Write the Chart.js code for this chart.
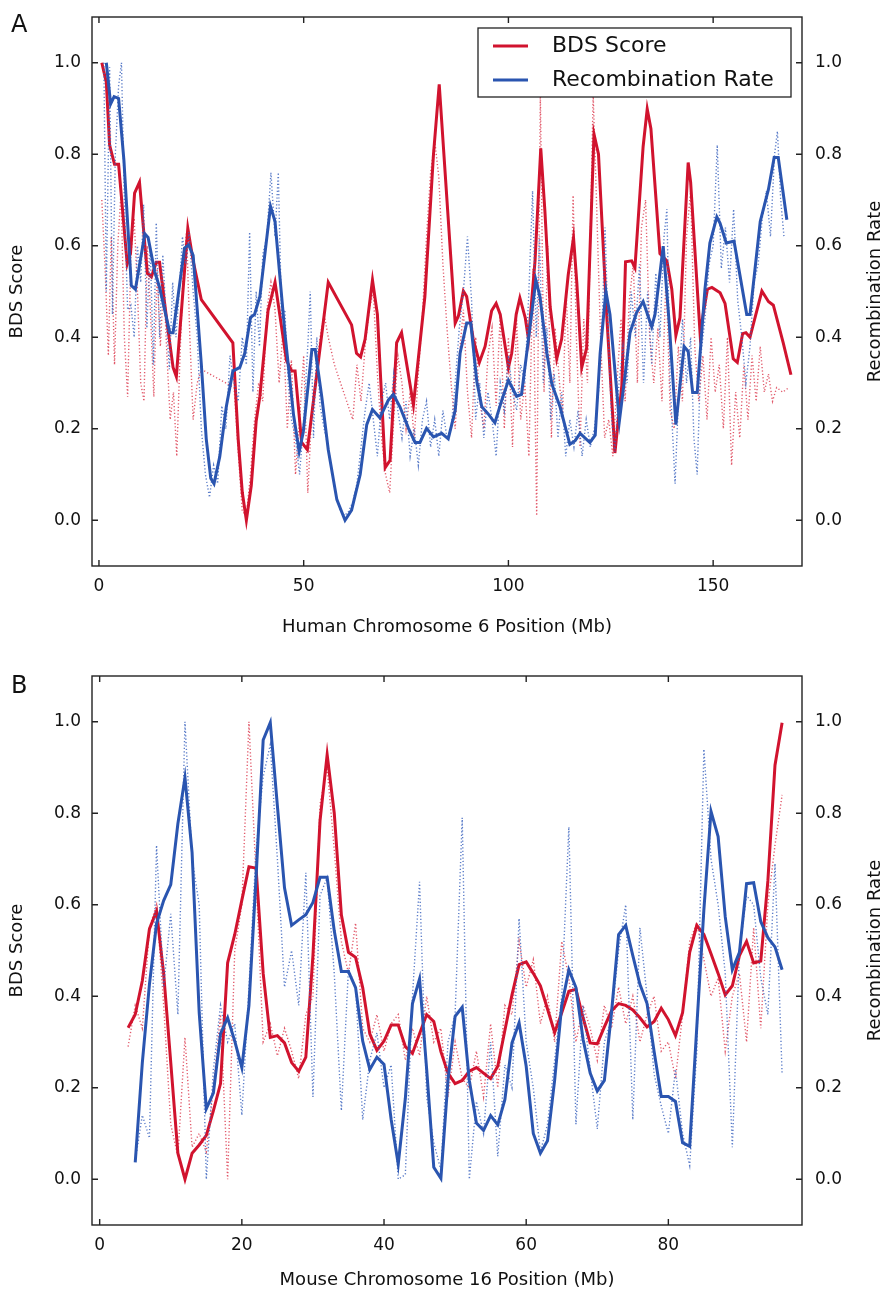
<!DOCTYPE html>
<html>
<head>
<meta charset="utf-8">
<script src="https://cdn.jsdelivr.net/npm/chart.js@4.4.1/dist/chart.umd.min.js"></script>
<style>
  body { margin: 0; background: #fff; }
  #wrap { position: relative; width: 883px; height: 1294px; }
  canvas { position: absolute; left: 0; }
</style>
</head>
<body>
<div id="wrap">
  <canvas id="chartA" width="883" height="650" style="top:0px"></canvas>
  <canvas id="chartB" width="883" height="644" style="top:650px"></canvas>
</div>
<script>
// tick labels
const scoreTicks = [0, 0.2, 0.4, 0.6, 0.8, 1.0];
const humanTicks = [0, 50, 100, 150];
const mouseTicks = [0, 20, 40, 60, 80];

// Panel A - human chromosome 6, smoothed BDS score
const humanBdsPos = [0.7, 1.8, 2.6, 3.8, 4.8, 6.9, 7.7, 8.7, 9.9, 11.8, 12.8, 14.0, 14.8, 16.7, 18.1, 18.9, 21.7, 23.0, 25.0, 32.7, 34.0, 35.0, 36.0, 37.2, 38.4, 39.3, 41.3, 43.0, 45.8, 47.1, 47.9, 49.5, 50.9, 56.0, 61.7, 62.9, 63.9, 65.0, 66.8, 68.0, 69.9, 71.1, 72.7, 73.9, 76.8, 79.6, 81.7, 83.1, 87.0, 87.8, 89.0, 89.8, 91.4, 92.9, 94.3, 95.9, 97.0, 98.0, 100.0, 100.8, 101.9, 102.8, 104.1, 104.9, 106.5, 107.9, 108.9, 110.2, 111.8, 113.0, 114.6, 115.9, 116.7, 117.9, 119.1, 120.9, 122.0, 124.0, 126.0, 127.7, 128.6, 130.1, 130.9, 132.9, 133.9, 134.8, 137.0, 138.7, 139.9, 140.9, 141.9, 143.9, 144.5, 146.8, 148.6, 149.7, 151.7, 152.9, 154.9, 155.9, 157.2, 158.0, 159.0, 161.9, 163.5, 164.7, 167.1, 169.0];
const humanBds = [1.0, 0.957, 0.82, 0.778, 0.778, 0.56, 0.583, 0.715, 0.739, 0.54, 0.532, 0.564, 0.564, 0.427, 0.334, 0.314, 0.638, 0.567, 0.482, 0.388, 0.178, 0.061, 0.0, 0.076, 0.217, 0.271, 0.458, 0.52, 0.349, 0.326, 0.326, 0.17, 0.154, 0.52, 0.427, 0.365, 0.357, 0.396, 0.525, 0.45, 0.115, 0.131, 0.388, 0.41, 0.252, 0.489, 0.80, 0.953, 0.431, 0.447, 0.501, 0.489, 0.396, 0.345, 0.38, 0.458, 0.474, 0.45, 0.334, 0.365, 0.45, 0.486, 0.443, 0.396, 0.567, 0.813, 0.677, 0.466, 0.353, 0.396, 0.536, 0.618, 0.52, 0.334, 0.376, 0.844, 0.80, 0.45, 0.147, 0.295, 0.565, 0.567, 0.552, 0.817, 0.899, 0.856, 0.583, 0.567, 0.505, 0.404, 0.443, 0.782, 0.739, 0.41, 0.505, 0.509, 0.497, 0.474, 0.353, 0.345, 0.408, 0.41, 0.40, 0.501, 0.478, 0.47, 0.388, 0.318];

// Panel A - smoothed recombination rate
const humanRecPos = [1.8, 2.85, 3.7, 4.8, 6.1, 7.9, 8.9, 11.2, 12.0, 13.6, 14.8, 17.3, 18.1, 19.3, 20.9, 21.9, 23.0, 25.0, 26.2, 27.3, 28.1, 29.5, 31.1, 32.7, 34.4, 35.6, 37.0, 38.0, 39.3, 41.9, 43.0, 45.4, 47.5, 48.9, 49.9, 52.0, 52.8, 54.4, 56.0, 58.1, 60.1, 61.7, 63.8, 65.4, 66.8, 68.6, 70.7, 71.9, 73.5, 75.6, 77.2, 78.4, 80.0, 81.7, 83.7, 85.3, 87.0, 88.2, 89.8, 90.8, 92.3, 93.5, 95.1, 96.7, 98.4, 100.0, 102.0, 103.2, 104.9, 106.7, 107.7, 109.4, 110.6, 112.6, 115.0, 116.3, 117.5, 119.9, 121.2, 122.4, 123.8, 124.8, 127.1, 128.5, 129.7, 131.3, 132.9, 135.0, 135.8, 137.8, 139.3, 140.9, 142.9, 143.9, 145.0, 146.1, 148.0, 149.2, 150.9, 151.7, 153.2, 155.1, 158.2, 159.0, 161.5, 163.5, 164.9, 165.9, 168.0];
const humanRec = [1.0, 0.91, 0.926, 0.922, 0.786, 0.513, 0.505, 0.626, 0.618, 0.544, 0.509, 0.41, 0.41, 0.489, 0.595, 0.602, 0.579, 0.341, 0.178, 0.092, 0.08, 0.139, 0.248, 0.326, 0.334, 0.365, 0.443, 0.45, 0.489, 0.686, 0.653, 0.41, 0.232, 0.15, 0.193, 0.373, 0.373, 0.271, 0.154, 0.045, 0.0, 0.022, 0.10, 0.209, 0.242, 0.224, 0.263, 0.275, 0.248, 0.201, 0.17, 0.17, 0.201, 0.182, 0.19, 0.178, 0.24, 0.365, 0.431, 0.431, 0.302, 0.248, 0.232, 0.213, 0.263, 0.306, 0.271, 0.275, 0.396, 0.525, 0.489, 0.365, 0.298, 0.248, 0.166, 0.174, 0.19, 0.17, 0.186, 0.365, 0.501, 0.45, 0.217, 0.318, 0.41, 0.454, 0.478, 0.423, 0.45, 0.599, 0.427, 0.209, 0.38, 0.369, 0.279, 0.279, 0.505, 0.606, 0.663, 0.649, 0.606, 0.61, 0.45, 0.45, 0.653, 0.723, 0.793, 0.793, 0.657];

// Panel A - raw (dotted) BDS score
const humanBdsRawPos = [0.7, 1.5, 2.3, 3.0, 3.8, 4.6, 5.4, 6.2, 7.0, 7.8, 8.6, 9.4, 10.2, 11.0, 11.8, 12.6, 13.4, 14.2, 15.0, 15.8, 16.6, 17.4, 18.2, 19.0, 19.8, 20.6, 21.4, 22.2, 23.0, 24.0, 25.0, 33.0, 34.0, 35.0, 36.0, 37.0, 38.0, 39.0, 40.0, 41.0, 42.0, 43.0, 44.0, 45.0, 46.0, 47.0, 48.0, 49.0, 50.0, 51.0, 52.0, 53.0, 54.0, 55.0, 56.0, 57.5, 59.0, 60.5, 62.0, 63.0, 64.0, 65.0, 66.0, 67.0, 68.0, 69.0, 70.0, 71.0, 72.0, 73.0, 74.0, 75.0, 76.0, 77.0, 78.0, 79.0, 80.0, 81.0, 82.0, 83.0, 84.0, 85.0, 86.0, 87.0, 88.0, 89.0, 90.0, 91.0, 92.0, 93.0, 94.0, 95.0, 96.0, 97.0, 98.0, 99.0, 100.0, 101.0, 102.0, 103.0, 104.0, 105.0, 106.0, 106.9, 107.8, 108.7, 109.6, 110.5, 111.4, 112.3, 113.2, 114.1, 115.0, 115.8, 116.6, 117.5, 118.4, 119.3, 120.0, 120.7, 121.5, 122.5, 123.5, 124.5, 125.5, 126.5, 127.5, 128.5, 129.5, 130.5, 131.5, 132.5, 133.5, 134.5, 135.5, 136.5, 137.5, 138.5, 139.5, 140.5, 141.5, 142.5, 143.5, 144.5, 145.5, 146.5, 147.5, 148.5, 149.5, 150.5, 151.5, 152.5, 153.5, 154.5, 155.5, 156.5, 157.5, 158.5, 159.5, 160.5, 161.5, 162.5, 163.5, 164.5, 165.5, 167.0, 168.5];
const humanBdsRaw = [0.70, 0.55, 0.36, 0.62, 0.34, 0.60, 0.72, 0.40, 0.27, 0.58, 0.66, 0.50, 0.30, 0.26, 0.60, 0.45, 0.27, 0.55, 0.38, 0.52, 0.36, 0.22, 0.28, 0.14, 0.36, 0.55, 0.63, 0.40, 0.22, 0.30, 0.33, 0.29, 0.15, 0.02, 0.01, 0.10, 0.22, 0.30, 0.26, 0.46, 0.52, 0.46, 0.30, 0.42, 0.20, 0.35, 0.10, 0.22, 0.36, 0.06, 0.24, 0.32, 0.40, 0.45, 0.40, 0.34, 0.30, 0.26, 0.22, 0.34, 0.26, 0.38, 0.46, 0.50, 0.32, 0.18, 0.10, 0.06, 0.22, 0.36, 0.30, 0.20, 0.28, 0.18, 0.32, 0.45, 0.62, 0.76, 0.83, 0.75, 0.56, 0.42, 0.30, 0.20, 0.36, 0.46, 0.28, 0.18, 0.40, 0.26, 0.20, 0.36, 0.42, 0.25, 0.45, 0.20, 0.40, 0.16, 0.44, 0.22, 0.30, 0.14, 0.55, 0.01, 0.93, 0.28, 0.60, 0.18, 0.42, 0.32, 0.22, 0.50, 0.30, 0.71, 0.40, 0.16, 0.44, 0.30, 0.62, 0.93, 0.70, 0.40, 0.18, 0.22, 0.14, 0.30, 0.44, 0.26, 0.48, 0.56, 0.30, 0.64, 0.70, 0.40, 0.30, 0.42, 0.26, 0.54, 0.24, 0.20, 0.38, 0.26, 0.62, 0.72, 0.38, 0.26, 0.36, 0.22, 0.40, 0.28, 0.34, 0.20, 0.40, 0.12, 0.28, 0.18, 0.34, 0.22, 0.36, 0.26, 0.38, 0.28, 0.32, 0.26, 0.29, 0.28, 0.29];

// Panel A - raw (dotted) recombination rate
const humanRecRawPos = [1.2, 1.8, 2.6, 3.3, 4.0, 4.8, 5.5, 6.2, 7.0, 7.8, 8.6, 9.4, 10.2, 10.9, 11.7, 12.5, 13.3, 14.0, 14.8, 15.6, 16.4, 17.2, 18.0, 18.8, 19.6, 20.4, 21.2, 22.0, 23.0, 24.0, 25.0, 26.0, 27.0, 28.0, 29.0, 30.0, 31.0, 32.0, 33.0, 34.0, 35.0, 36.0, 36.8, 37.6, 38.4, 39.2, 40.0, 41.0, 42.0, 43.0, 43.8, 44.6, 45.4, 46.2, 47.0, 48.0, 49.0, 50.0, 51.0, 51.6, 52.4, 53.2, 54.0, 55.0, 56.0, 57.0, 58.0, 59.0, 60.0, 61.0, 62.0, 63.0, 64.0, 65.0, 66.0, 67.0, 68.0, 69.0, 70.0, 71.0, 72.0, 73.0, 74.0, 75.0, 76.0, 77.0, 78.0, 79.0, 80.0, 81.0, 82.0, 83.0, 84.0, 85.0, 86.0, 87.0, 88.0, 89.0, 90.0, 91.0, 92.0, 93.0, 94.0, 95.0, 96.0, 97.0, 98.0, 99.0, 100.0, 101.0, 102.0, 103.0, 104.0, 105.0, 105.9, 106.8, 107.6, 108.5, 109.4, 110.3, 111.2, 112.1, 113.0, 114.0, 115.0, 116.0, 117.0, 118.0, 119.0, 120.0, 121.0, 122.0, 123.0, 123.6, 124.4, 125.2, 126.0, 127.0, 128.0, 129.0, 130.0, 131.0, 132.0, 133.0, 134.0, 135.0, 136.0, 137.0, 138.0, 138.7, 139.5, 140.7, 141.5, 142.5, 143.5, 144.5, 145.3, 146.1, 147.0, 148.0, 149.0, 150.0, 151.0, 152.0, 153.0, 154.0, 155.0, 156.0, 157.0, 158.0, 159.0, 160.0, 161.0, 162.0, 163.0, 164.0, 165.0, 165.7, 166.5, 167.3];
const humanRecRaw = [1.0, 0.50, 0.99, 0.45, 0.80, 0.95, 1.0, 0.70, 0.46, 0.47, 0.40, 0.60, 0.52, 0.69, 0.42, 0.60, 0.34, 0.65, 0.40, 0.58, 0.44, 0.33, 0.52, 0.40, 0.50, 0.62, 0.56, 0.63, 0.50, 0.40, 0.20, 0.10, 0.05, 0.12, 0.08, 0.25, 0.20, 0.36, 0.30, 0.26, 0.40, 0.34, 0.63, 0.28, 0.50, 0.38, 0.58, 0.62, 0.76, 0.62, 0.76, 0.44, 0.46, 0.30, 0.22, 0.18, 0.10, 0.22, 0.38, 0.50, 0.18, 0.40, 0.25, 0.20, 0.16, 0.10, 0.05, 0.02, 0.01, 0.02, 0.04, 0.08, 0.16, 0.24, 0.30, 0.22, 0.14, 0.26, 0.30, 0.22, 0.32, 0.24, 0.18, 0.26, 0.14, 0.20, 0.12, 0.22, 0.26, 0.16, 0.22, 0.14, 0.24, 0.18, 0.20, 0.30, 0.42, 0.50, 0.62, 0.48, 0.22, 0.30, 0.18, 0.28, 0.22, 0.14, 0.30, 0.24, 0.36, 0.28, 0.24, 0.34, 0.30, 0.50, 0.72, 0.40, 0.62, 0.30, 0.42, 0.22, 0.32, 0.18, 0.28, 0.14, 0.22, 0.16, 0.24, 0.14, 0.22, 0.16, 0.20, 0.28, 0.46, 0.64, 0.40, 0.22, 0.15, 0.30, 0.38, 0.30, 0.50, 0.40, 0.56, 0.30, 0.50, 0.34, 0.54, 0.40, 0.62, 0.68, 0.30, 0.08, 0.26, 0.44, 0.30, 0.40, 0.18, 0.10, 0.36, 0.44, 0.56, 0.60, 0.82, 0.55, 0.64, 0.52, 0.68, 0.48, 0.40, 0.30, 0.38, 0.52, 0.56, 0.66, 0.72, 0.62, 0.80, 0.85, 0.70, 0.62];

// Panel B - mouse chromosome 16 (1 Mb steps)
const mouseBdsPos = [4, 5, 6, 7, 8, 9, 10, 11, 12, 13, 14, 15, 16, 17, 18, 19, 20, 21, 22, 23, 24, 25, 26, 27, 28, 29, 30, 31, 32, 33, 34, 35, 36, 37, 38, 39, 40, 41, 42, 43, 44, 45, 46, 47, 48, 49, 50, 51, 52, 53, 54, 55, 56, 57, 58, 59, 60, 61, 62, 63, 64, 65, 66, 67, 68, 69, 70, 71, 72, 73, 74, 75, 76, 77, 78, 79, 80, 81, 82, 83, 84, 85, 86, 87, 88, 89, 90, 91, 92, 93, 94, 95, 96];
const mouseBds = [0.331, 0.36, 0.434, 0.547, 0.586, 0.45, 0.255, 0.057, 0.0, 0.057, 0.075, 0.096, 0.15, 0.209, 0.473, 0.535, 0.61, 0.683, 0.68, 0.45, 0.31, 0.314, 0.298, 0.255, 0.236, 0.267, 0.489, 0.784, 0.928, 0.80, 0.578, 0.496, 0.485, 0.419, 0.318, 0.282, 0.302, 0.337, 0.337, 0.29, 0.275, 0.318, 0.36, 0.345, 0.279, 0.232, 0.209, 0.216, 0.236, 0.244, 0.232, 0.22, 0.247, 0.325, 0.403, 0.469, 0.475, 0.45, 0.423, 0.372, 0.321, 0.364, 0.411, 0.415, 0.353, 0.298, 0.296, 0.333, 0.368, 0.384, 0.38, 0.37, 0.353, 0.333, 0.345, 0.374, 0.349, 0.314, 0.364, 0.496, 0.555, 0.535, 0.493, 0.45, 0.403, 0.423, 0.489, 0.52, 0.473, 0.477, 0.652, 0.905, 0.998];
const mouseRecPos = [5, 6, 7, 8, 9, 10, 11, 12, 13, 14, 15, 16, 17, 18, 19, 20, 21, 22, 23, 24, 25, 26, 27, 28, 29, 30, 31, 32, 33, 34, 35, 36, 37, 38, 39, 40, 41, 42, 43, 44, 45, 46, 47, 48, 49, 50, 51, 52, 53, 54, 55, 56, 57, 58, 59, 60, 61, 62, 63, 64, 65, 66, 67, 68, 69, 70, 71, 72, 73, 74, 75, 76, 77, 78, 79, 80, 81, 82, 83, 84, 85, 86, 87, 88, 89, 90, 91, 92, 93, 94, 95, 96];
const mouseRec = [0.037, 0.255, 0.426, 0.559, 0.609, 0.644, 0.777, 0.878, 0.714, 0.364, 0.154, 0.189, 0.318, 0.353, 0.302, 0.244, 0.38, 0.66, 0.96, 0.998, 0.816, 0.637, 0.555, 0.567, 0.578, 0.605, 0.66, 0.66, 0.543, 0.454, 0.454, 0.419, 0.302, 0.24, 0.267, 0.251, 0.131, 0.033, 0.177, 0.384, 0.438, 0.24, 0.026, 0.002, 0.216, 0.356, 0.376, 0.216, 0.123, 0.107, 0.139, 0.119, 0.174, 0.298, 0.342, 0.247, 0.10, 0.057, 0.084, 0.216, 0.38, 0.458, 0.419, 0.306, 0.232, 0.193, 0.216, 0.364, 0.535, 0.555, 0.489, 0.426, 0.384, 0.279, 0.181, 0.181, 0.17, 0.08, 0.072, 0.333, 0.59, 0.804, 0.749, 0.574, 0.458, 0.496, 0.646, 0.648, 0.563, 0.528, 0.508, 0.458];
const mouseBdsRaw = [0.29, 0.38, 0.33, 0.55, 0.60, 0.38, 0.12, 0.05, 0.31, 0.07, 0.10, 0.06, 0.20, 0.36, 0.00, 0.50, 0.60, 1.0, 0.66, 0.30, 0.34, 0.27, 0.33, 0.28, 0.22, 0.36, 0.40, 0.82, 0.90, 0.72, 0.52, 0.45, 0.56, 0.33, 0.30, 0.36, 0.28, 0.34, 0.36, 0.26, 0.33, 0.27, 0.40, 0.30, 0.33, 0.18, 0.30, 0.22, 0.20, 0.28, 0.18, 0.34, 0.20, 0.38, 0.36, 0.52, 0.42, 0.48, 0.34, 0.40, 0.30, 0.52, 0.44, 0.30, 0.38, 0.33, 0.26, 0.38, 0.33, 0.42, 0.34, 0.40, 0.30, 0.36, 0.40, 0.28, 0.30, 0.22, 0.36, 0.52, 0.56, 0.48, 0.40, 0.44, 0.28, 0.40, 0.45, 0.30, 0.55, 0.33, 0.60, 0.73, 0.84];
const mouseRecRaw = [0.04, 0.14, 0.09, 0.73, 0.42, 0.58, 0.36, 1.0, 0.70, 0.60, 0.0, 0.24, 0.38, 0.30, 0.34, 0.14, 0.42, 0.72, 0.88, 0.95, 0.70, 0.42, 0.50, 0.38, 0.67, 0.18, 0.62, 0.66, 0.45, 0.15, 0.46, 0.42, 0.13, 0.26, 0.32, 0.20, 0.25, 0.00, 0.01, 0.40, 0.65, 0.18, 0.08, 0.02, 0.30, 0.36, 0.79, 0.00, 0.17, 0.10, 0.30, 0.05, 0.25, 0.20, 0.57, 0.30, 0.20, 0.06, 0.12, 0.26, 0.40, 0.77, 0.12, 0.38, 0.24, 0.11, 0.30, 0.35, 0.50, 0.60, 0.13, 0.55, 0.40, 0.23, 0.16, 0.10, 0.24, 0.10, 0.03, 0.28, 0.94, 0.70, 0.60, 0.45, 0.07, 0.50, 0.62, 0.60, 0.44, 0.36, 0.69, 0.23];

const RED = '#d1132e';
const BLUE = '#2a55b0';
const RED_DOT = 'rgba(220, 60, 80, 0.85)';
const BLUE_DOT = 'rgba(60, 100, 190, 0.85)';
const FONT = "'DejaVu Sans', 'Liberation Sans', sans-serif";

function pts(xs, ys) {
    return xs.map((x, i) => ({ x: x, y: ys[i] }));
}

// frame, inward ticks, panel letter, right title and legend
const framePlugin = {
    id: 'frame',
    afterDraw(chart, args, opts) {
        const ctx = chart.ctx;
        const a = chart.chartArea;
        const sx = chart.scales.x;
        const sy = chart.scales.y;
        ctx.save();
        ctx.strokeStyle = '#222';
        ctx.lineWidth = 1.4;
        ctx.strokeRect(a.left, a.top, a.right - a.left, a.bottom - a.top);
        ctx.beginPath();
        sx.ticks.forEach(t => {
            const p = sx.getPixelForValue(t.value);
            ctx.moveTo(p, a.bottom); ctx.lineTo(p, a.bottom - 6);
            ctx.moveTo(p, a.top); ctx.lineTo(p, a.top + 6);
        });
        sy.ticks.forEach(t => {
            const p = sy.getPixelForValue(t.value);
            ctx.moveTo(a.left, p); ctx.lineTo(a.left + 6, p);
            ctx.moveTo(a.right, p); ctx.lineTo(a.right - 6, p);
        });
        ctx.stroke();

        ctx.fillStyle = '#111';
        ctx.font = '24px ' + FONT;
        ctx.textAlign = 'left';
        ctx.textBaseline = 'alphabetic';
        ctx.fillText(opts.letter, 11, opts.letterY);

        // right axis title, bottom to top
        ctx.save();
        ctx.translate(875, (a.top + a.bottom) / 2);
        ctx.rotate(-Math.PI / 2);
        ctx.font = '18px ' + FONT;
        ctx.textAlign = 'center';
        ctx.textBaseline = 'middle';
        ctx.fillText('Recombination Rate', 0, 0);
        ctx.restore();

        if (opts.legend) {
            ctx.fillStyle = '#fff';
            ctx.fillRect(478, 28, 313, 69);
            ctx.strokeStyle = '#222';
            ctx.lineWidth = 1.3;
            ctx.strokeRect(478, 28, 313, 69);
            ctx.lineWidth = 3;
            ctx.strokeStyle = RED;
            ctx.beginPath(); ctx.moveTo(493, 46); ctx.lineTo(528, 46); ctx.stroke();
            ctx.strokeStyle = BLUE;
            ctx.beginPath(); ctx.moveTo(493, 80); ctx.lineTo(528, 80); ctx.stroke();
            ctx.fillStyle = '#111';
            ctx.font = '22px ' + FONT;
            ctx.textAlign = 'left';
            ctx.textBaseline = 'middle';
            ctx.fillText('BDS Score', 552, 46);
            ctx.fillText('Recombination Rate', 552, 80);
        }
        ctx.restore();
    }
};

function makePanel(id, p) {
    const tickFont = { family: FONT, size: 17 };
    const titleFont = { family: FONT, size: 18 };
    const yAxis = side => ({
        type: 'linear',
        position: side,
        min: -0.1,
        max: 1.1,
        afterBuildTicks: s => { s.ticks = scoreTicks.map(v => ({ value: v })); },
        afterFit: s => {
            s.width = side === 'left' ? 92 : 81;
            s.paddingTop = 0;
            s.paddingBottom = 0;
        },
        grid: { display: false, drawTicks: false },
        border: { display: false },
        ticks: { padding: side === 'left' ? 11 : 13, font: tickFont, color: '#111', callback: v => v.toFixed(1) },
        title: { display: side === 'left', text: 'BDS Score', font: titleFont, color: '#111', padding: { top: 7 } }
    });

    new Chart(document.getElementById(id), {
        type: 'line',
        data: {
            datasets: [
                { data: pts(p.recPos, p.rec), yAxisID: 'y2', borderColor: BLUE, borderWidth: 3 },
                { data: pts(p.recRawPos, p.recRaw), yAxisID: 'y2', borderColor: BLUE_DOT, borderWidth: 1.4, borderDash: [1.2, 2.2] },
                { data: pts(p.bdsPos, p.bds), yAxisID: 'y', borderColor: RED, borderWidth: 3 },
                { data: pts(p.bdsRawPos, p.bdsRaw), yAxisID: 'y', borderColor: RED_DOT, borderWidth: 1.4, borderDash: [1.2, 2.2] }
            ]
        },
        options: {
            responsive: false,
            animation: false,
            devicePixelRatio: 1,
            events: [],
            layout: { padding: { top: p.top, left: 0, right: 0, bottom: 0 } },
            elements: { point: { radius: 0 }, line: { tension: 0, fill: false } },
            scales: {
                x: {
                    type: 'linear',
                    min: p.xMin,
                    max: p.xMax,
                    afterBuildTicks: s => { s.ticks = p.xTicks.map(v => ({ value: v })); },
                    afterFit: s => {
                        s.height = p.xHeight;
                        s.paddingLeft = 0;
                        s.paddingRight = 0;
                    },
                    grid: { display: false, drawTicks: false },
                    border: { display: false },
                    ticks: { padding: 10, font: tickFont, color: '#111', autoSkip: false, maxRotation: 0 },
                    title: { display: true, text: p.xTitle, font: titleFont, color: '#111', padding: { bottom: p.titlePad } }
                },
                y: yAxis('left'),
                y2: yAxis('right')
            },
            plugins: {
                legend: { display: false },
                tooltip: { enabled: false },
                frame: { letter: p.letter, letterY: p.letterY, legend: p.legend }
            }
        },
        plugins: [framePlugin]
    });
}

document.addEventListener('DOMContentLoaded', function() {
    makePanel('chartA', {
        top: 17, xHeight: 84, titlePad: 12, xMin: -1.7, xMax: 171.7, xTicks: humanTicks,
        xTitle: 'Human Chromosome 6 Position (Mb)', letter: 'A', letterY: 32, legend: true,
        bdsPos: humanBdsPos, bds: humanBds, recPos: humanRecPos, rec: humanRec,
        bdsRawPos: humanBdsRawPos, bdsRaw: humanBdsRaw, recRawPos: humanRecRawPos, recRaw: humanRecRaw
    });
    makePanel('chartB', {
        top: 26, xHeight: 69, titlePad: 3, xMin: -1.08, xMax: 98.8, xTicks: mouseTicks,
        xTitle: 'Mouse Chromosome 16 Position (Mb)', letter: 'B', letterY: 43, legend: false,
        bdsPos: mouseBdsPos, bds: mouseBds, recPos: mouseRecPos, rec: mouseRec,
        bdsRawPos: mouseBdsPos, bdsRaw: mouseBdsRaw, recRawPos: mouseRecPos, recRaw: mouseRecRaw
    });
});
</script>
</body>
</html>
